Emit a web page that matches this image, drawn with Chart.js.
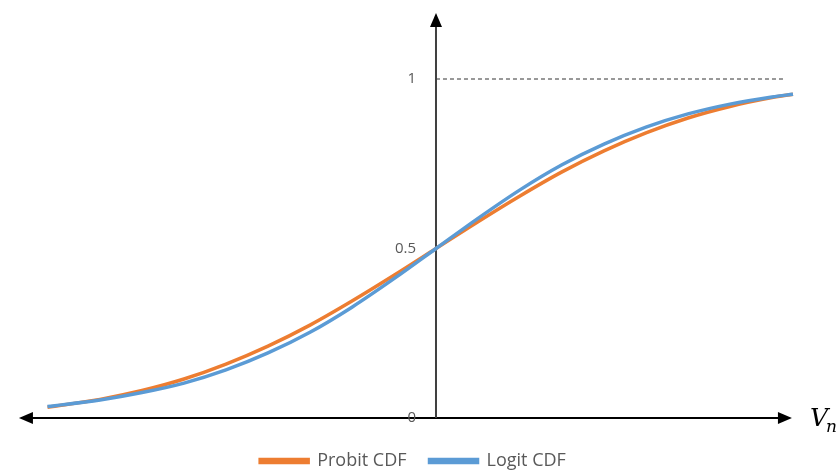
<!DOCTYPE html>
<html>
<head>
<meta charset="utf-8">
<script src="https://cdn.jsdelivr.net/npm/chart.js@4.4.1/dist/chart.umd.min.js"></script>
<style>
  html, body { margin: 0; padding: 0; background: #fff; }
  #wrap { width: 840px; height: 472px; }
</style>
</head>
<body>
<div id="wrap"><canvas id="cdfChart"></canvas></div>
<script>
const vn = [-1.85, -1.6, -1.4, -1.2, -1.0, -0.8, -0.6, -0.4, -0.2, 0, 0.2, 0.4, 0.6, 0.8, 1.0, 1.2, 1.4, 1.6, 1.7];
const probit = [0.032, 0.055, 0.081, 0.115, 0.159, 0.212, 0.274, 0.345, 0.421, 0.5, 0.579, 0.655, 0.726, 0.788, 0.841, 0.885, 0.919, 0.945, 0.955];
const logit = [0.034, 0.053, 0.075, 0.103, 0.142, 0.192, 0.253, 0.327, 0.411, 0.5, 0.589, 0.673, 0.747, 0.808, 0.858, 0.897, 0.926, 0.947, 0.955];
const yTicks = [0, 0.5, 1];
const seriesNames = ['Probit CDF', 'Logit CDF'];

function toPoints(ys) {
    return vn.map((x, i) => ({x: x, y: ys[i]}));
}

function arrowHead(ctx, x, y, dir, len, half) {
    // dir: 'left', 'right', 'up'
    ctx.beginPath();
    if (dir === 'left') {
        ctx.moveTo(x, y); ctx.lineTo(x + len, y - half); ctx.lineTo(x + len, y + half);
    } else if (dir === 'right') {
        ctx.moveTo(x, y); ctx.lineTo(x - len, y - half); ctx.lineTo(x - len, y + half);
    } else {
        ctx.moveTo(x, y); ctx.lineTo(x - half, y + len); ctx.lineTo(x + half, y + len);
    }
    ctx.closePath();
    ctx.fill();
}

const axesPlugin = {
    id: 'arrowAxes',
    beforeDatasetsDraw(chart) {
        const ctx = chart.ctx;
        const xs = chart.scales.x, ys = chart.scales.y;
        const x0 = xs.getPixelForValue(0);
        const y0 = ys.getPixelForValue(0);
        const y1 = ys.getPixelForValue(1);
        ctx.save();

        // dashed line at 1
        ctx.strokeStyle = '#333';
        ctx.lineWidth = 1;
        ctx.setLineDash([4, 3]);
        ctx.beginPath();
        ctx.moveTo(x0, y1);
        ctx.lineTo(xs.getPixelForValue(1.662), y1);
        ctx.stroke();
        ctx.setLineDash([]);

        // horizontal axis
        const xl = xs.getPixelForValue(-1.986), xr = xs.getPixelForValue(1.695);
        ctx.strokeStyle = '#000';
        ctx.fillStyle = '#000';
        ctx.lineWidth = 2;
        ctx.beginPath();
        ctx.moveTo(xl + 8, y0);
        ctx.lineTo(xr - 8, y0);
        ctx.stroke();
        arrowHead(ctx, xl, y0, 'left', 14, 6);
        arrowHead(ctx, xr, y0, 'right', 14, 6);

        // vertical axis
        const yt = ys.getPixelForValue(1.195);
        ctx.strokeStyle = '#404040';
        ctx.beginPath();
        ctx.moveTo(x0, y0);
        ctx.lineTo(x0, yt + 8);
        ctx.stroke();
        ctx.fillStyle = '#000';
        arrowHead(ctx, x0, yt, 'up', 14, 6);

        // tick labels
        ctx.fillStyle = '#595959';
        ctx.font = '15px "Open Sans", sans-serif';
        ctx.textAlign = 'right';
        ctx.textBaseline = 'middle';
        yTicks.forEach(v => {
            ctx.fillText(String(v), x0 - 20, ys.getPixelForValue(v));
        });

        // axis title V_n
        ctx.fillStyle = '#000';
        ctx.textAlign = 'left';
        ctx.textBaseline = 'alphabetic';
        ctx.font = 'italic 25px "DejaVu Serif", serif';
        ctx.fillText('V', xr + 18, y0 + 8);
        ctx.font = 'italic 17px "DejaVu Serif", serif';
        ctx.fillText('n', xr + 34, y0 + 14);
        ctx.restore();
    }
};

function initializeChart() {
    const ctx = document.getElementById('cdfChart').getContext('2d');
    new Chart(ctx, {
        type: 'line',
        data: {
            datasets: [
                {
                    label: seriesNames[0],
                    data: toPoints(probit),
                    borderColor: '#ED7D31',
                    backgroundColor: '#ED7D31',
                    borderWidth: 3.5,
                    pointRadius: 0,
                    cubicInterpolationMode: 'monotone',
                    fill: false,
                    order: 1,
                },
                {
                    label: seriesNames[1],
                    data: toPoints(logit),
                    borderColor: '#5B9BD5',
                    backgroundColor: '#5B9BD5',
                    borderWidth: 3.5,
                    pointRadius: 0,
                    cubicInterpolationMode: 'monotone',
                    fill: false,
                    order: 0,
                },
            ]
        },
        options: {
            responsive: true,
            maintainAspectRatio: false,
            animation: false,
            layout: {
                padding: {top: 11, left: 16, right: 30, bottom: -8}
            },
            scales: {
                x: {type: 'linear', min: -2.0, max: 1.781, display: false},
                y: {min: -0.0324, max: 1.2006, display: false}
            },
            plugins: {
                tooltip: {enabled: false},
                legend: {
                    position: 'bottom',
                    labels: {
                        boxWidth: 48,
                        boxHeight: 3,
                        padding: 23,
                        color: '#595959',
                        font: {family: '"Open Sans", sans-serif', size: 18},
                        sort: (a, b) => a.datasetIndex - b.datasetIndex
                    }
                }
            }
        },
        plugins: [axesPlugin]
    });
}

window.onload = initializeChart;
</script>
</body>
</html>
